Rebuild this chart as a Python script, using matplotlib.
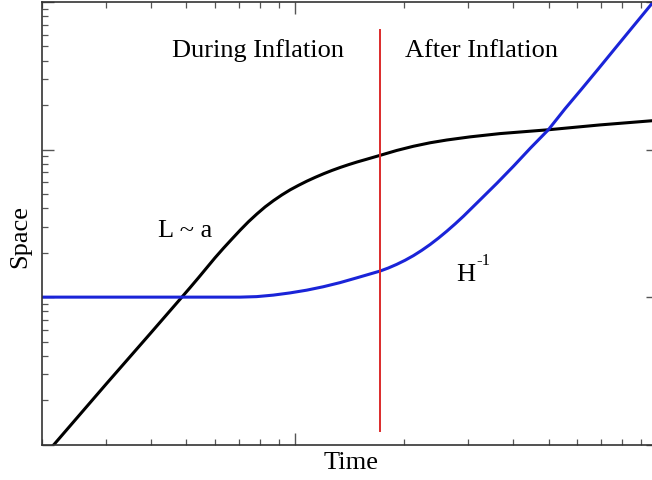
import matplotlib
matplotlib.use('Agg')
import matplotlib.pyplot as plt
from matplotlib.ticker import LogLocator, NullFormatter

# values (log-log axes, arbitrary units)
t_L = [2.1, 2.156, 3.01, 3.97, 4.86, 5.119, 5.40, 5.694, 6.00, 6.331, 6.68,
       7.040, 7.42, 7.828, 8.25, 8.704, 9.18, 9.679, 10.21, 10.76, 11.35,
       11.97, 12.62, 13.31, 14.04, 14.80, 15.61, 17.13, 19.04, 21.18, 23.55,
       26.19, 30.35, 36.72, 49.93, 69.34, 100]
L = [0.94, 1.003, 2.593, 5.643, 10.0, 11.59, 13.53, 15.83, 18.48, 21.46, 24.76,
     28.43, 32.42, 36.60, 40.88, 45.11, 49.31, 53.39, 57.28, 61.11, 64.88,
     68.60, 72.21, 75.71, 79.10, 82.37, 85.51, 91.36, 98.6, 105.3, 111.2,
     116.1, 121.9, 128.3, 136.2, 146.9, 157.9]

t_H = [2.0, 7.03, 7.82, 8.69, 9.66, 10.75, 11.94, 13.28, 14.77, 17.13, 18.06,
       19.04, 20.08, 21.18, 22.33, 23.55, 24.83, 26.19, 27.62, 29.12, 32.38,
       36.01, 40.04, 44.53, 49.93, 55.51, 61.73, 68.65, 76.34, 84.90, 94.40, 100]
H_inv = [10.0, 10.0, 10.08, 10.32, 10.68, 11.15, 11.76, 12.54, 13.51, 15.02,
         15.76, 16.67, 17.77, 19.11, 20.75, 22.73, 25.12, 27.99, 31.38, 35.38,
         45.72, 59.14, 77.31, 102.2, 136.2, 188.9, 257.6, 352.9, 485.3, 666.8,
         915.0, 1088.0]

t_end = 17.13          # end of inflation
red_span = (1.244, 645.0)

plt.rcParams['font.family'] = ['Liberation Serif', 'DejaVu Serif']

fig = plt.figure(figsize=[6.52, 4.81], dpi=100)
ax = fig.add_axes([42.2/652, 35.3/481, 615.4/652, 442.7/481])

ax.plot(t_L, L, color='k', lw=2.2, solid_joinstyle='round')
ax.plot(t_H, H_inv, color='#1a24d8', lw=2.2, solid_joinstyle='round')
ax.plot([t_end, t_end], red_span, color='#dc2a2a', lw=1.4)

ax.set_xscale('log')
ax.set_yscale('log')
ax.set_xlim(2, 100)
ax.set_ylim(1, 1000)

for axis in (ax.xaxis, ax.yaxis):
    axis.set_major_locator(LogLocator(base=10))
    axis.set_minor_locator(LogLocator(base=10, subs=range(2, 10)))
    axis.set_major_formatter(NullFormatter())
    axis.set_minor_formatter(NullFormatter())
ax.tick_params(which='both', direction='in', top=True, right=True, color='#555555')
ax.tick_params(which='major', length=8.6, width=1.0)
ax.tick_params(which='minor', length=4.3, width=0.9)
for s in ax.spines.values():
    s.set_color('#333333')
    s.set_linewidth(1.2)

fs = 19
ax.text(0.211, 0.8787, 'During Inflation', transform=ax.transAxes, fontsize=fs,
        ha='left', va='baseline')
ax.text(0.5895, 0.8787, 'After Inflation', transform=ax.transAxes, fontsize=fs,
        ha='left', va='baseline')
ax.text(0.188, 0.4708, 'L ~ a', transform=ax.transAxes, fontsize=fs,
        ha='left', va='baseline')
ax.text(0.6724, 0.3727, 'H', transform=ax.transAxes, fontsize=fs,
        ha='left', va='baseline')
ax.text(0.7048, 0.408, '-1', transform=ax.transAxes, fontsize=12,
        ha='left', va='baseline')

fig.text(351.5/652, 12/481, 'Time', fontsize=fs, ha='center', va='baseline')
fig.text(20/652, 244.5/481, 'Space', fontsize=fs, ha='center', va='center',
         rotation=90)

fig.savefig('out.png', dpi=100)
